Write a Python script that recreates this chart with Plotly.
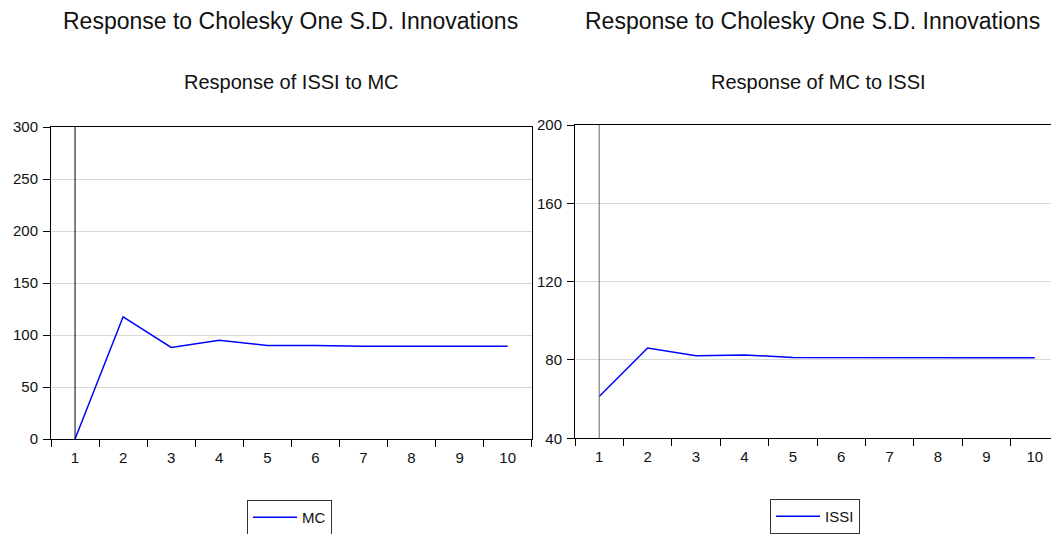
import plotly.graph_objects as go

periods = ["1", "2", "3", "4", "5", "6", "7", "8", "9", "10"]
issi_to_mc = [0.0, 117.5, 88.0, 95.0, 89.8, 90.0, 89.3, 89.3, 89.3, 89.3]
mc_to_issi = [61.3, 86.1, 82.1, 82.6, 81.3, 81.2, 81.1, 81.1, 81.1, 81.1]

main_title = "Response to Cholesky One S.D. Innovations"
left_title = "Response of ISSI to MC"
right_title = "Response of MC to ISSI"

# The page body adds an 8px margin; the figure fills the rest of the window.
OFF = 8
W, H = 1059 - OFF, 534 - OFF
FONT = "Liberation Sans, Arial, sans-serif"

def px(x):
    return (x - OFF) / W

def py(y):
    return (H - (y - OFF)) / H

fig = go.Figure()
fig.add_trace(go.Scatter(x=periods, y=issi_to_mc, mode="lines", name="MC",
                         line=dict(color="#0000FF", width=1.5),
                         xaxis="x", yaxis="y", legend="legend"))
fig.add_trace(go.Scatter(x=periods, y=mc_to_issi, mode="lines", name="ISSI",
                         line=dict(color="#0000FF", width=1.5),
                         xaxis="x2", yaxis="y2", legend="legend2"))

xcommon = dict(type="category", categoryorder="array", categoryarray=periods,
               range=[-0.5, 9.5], showgrid=False, zeroline=False, automargin=False,
               showline=True, linecolor="#000000", linewidth=1,
               ticks="outside", tickson="boundaries", ticklen=7,
               tickcolor="#000000", tickwidth=1, ticklabelstandoff=5,
               tickfont=dict(family=FONT, size=15, color="#111111"))
ycommon = dict(showgrid=True, gridcolor="#d9d9d9", gridwidth=1, zeroline=False,
               automargin=False,
               showline=True, linecolor="#000000", linewidth=1,
               ticks="outside", ticklen=7, tickcolor="#000000", tickwidth=1,
               ticklabelstandoff=2,
               tickfont=dict(family=FONT, size=15, color="#111111"))

legend_common = dict(xanchor="left", yanchor="top",
                     bordercolor="#333333", borderwidth=1, bgcolor="white",
                     font=dict(family=FONT, size=15, color="#111111"),
                     itemwidth=44)

fig.update_layout(
    template="none",
    width=W, height=H,
    margin=dict(l=0, r=0, t=0, b=0, pad=0, autoexpand=False),
    paper_bgcolor="white", plot_bgcolor="white",
    showlegend=True,
    xaxis=dict(xcommon, domain=[px(51), px(531.7)], anchor="y", mirror=True),
    yaxis=dict(ycommon, domain=[py(439), py(127)], anchor="x", range=[0, 300],
               dtick=50, tick0=0, mirror=True),
    xaxis2=dict(xcommon, domain=[px(575), 1.0], anchor="y2", mirror=True),
    yaxis2=dict(ycommon, domain=[py(438.3), py(125)], anchor="x2", range=[40, 200],
                dtick=40, tick0=40, mirror=False),
    legend=dict(legend_common, x=px(247), y=py(500)),
    legend2=dict(legend_common, x=px(770), y=py(499)),
)

# vertical line at first period
fig.add_shape(type="line", xref="x", yref="y domain", x0=0, x1=0, y0=0, y1=1,
              line=dict(color="#000000", width=1))
fig.add_shape(type="line", xref="x2", yref="y2 domain", x0=0, x1=0, y0=0, y1=1,
              line=dict(color="#666666", width=1))

# titles
for cx, text in [(290, main_title), (812, main_title)]:
    fig.add_annotation(text=text, xref="paper", yref="paper", x=px(cx), y=py(21),
                       xanchor="center", yanchor="middle", showarrow=False,
                       font=dict(family=FONT, size=23, color="#111111"))
for cx, text in [(291, left_title), (818, right_title)]:
    fig.add_annotation(text=text, xref="paper", yref="paper", x=px(cx), y=py(82),
                       xanchor="center", yanchor="middle", showarrow=False,
                       font=dict(family=FONT, size=20, color="#111111"))

fig.write_html("out.html")
